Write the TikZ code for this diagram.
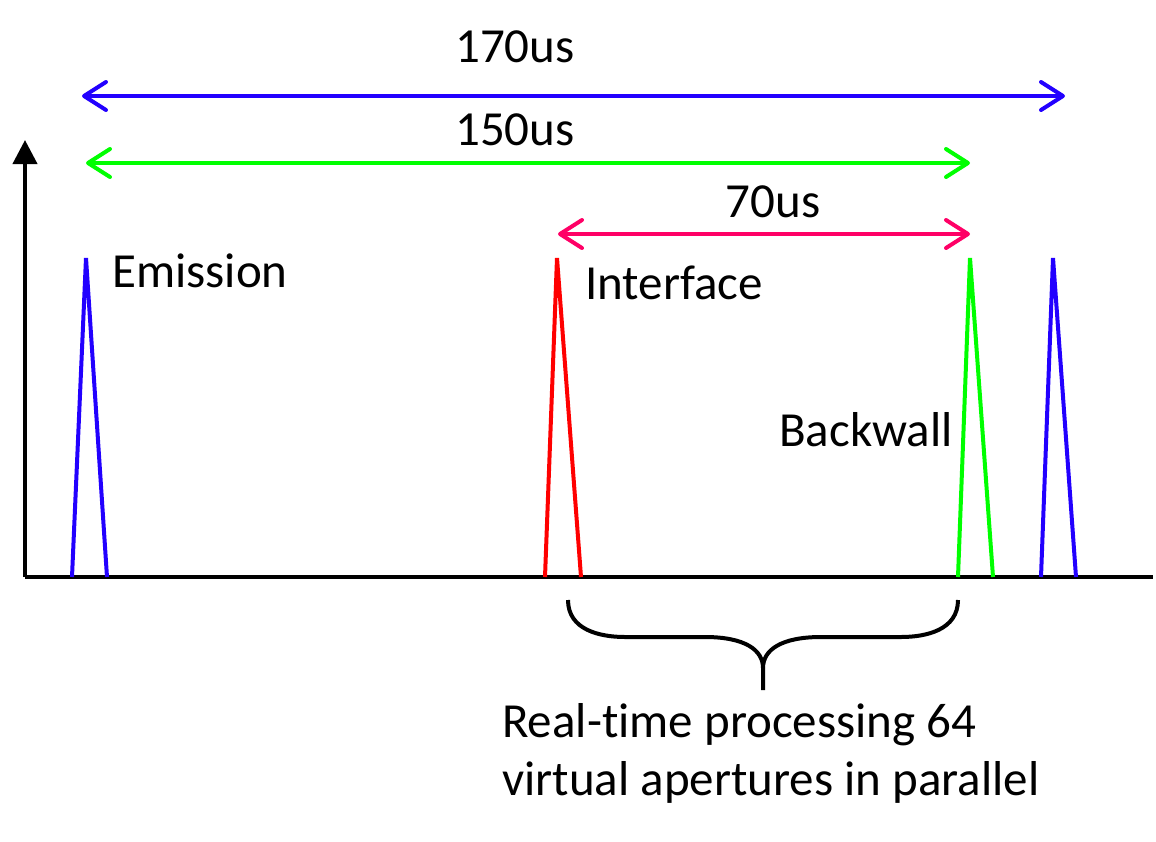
\documentclass[tikz,border=0pt]{standalone}
\usepackage{fontspec}
\setmainfont{Carlito}[Ligatures=NoCommon]
\usetikzlibrary{arrows.meta}
\definecolor{pblue}{RGB}{34,0,255}
\definecolor{pred}{RGB}{255,0,0}
\definecolor{pgreen}{RGB}{0,255,0}
\definecolor{ppink}{RGB}{255,0,102}
\tikzset{
  lbl/.style={font=\fontsize{49}{58}\selectfont, inner sep=0pt, anchor=base},
  dim/.style={line width=4pt, {Straight Barb[length=22pt,width=28pt,round]}-{Straight Barb[length=22pt,width=28pt,round]}},
  axis/.style={line width=4pt, black},
  peak/.style={line width=4pt, line join=miter},
}
\begin{document}
\begin{tikzpicture}[x=1pt,y=-1pt]
\useasboundingbox (0,0) rectangle (1156,841);
% axes
\coordinate (O) at (25,577);
\coordinate (Ytop) at (25,140);
\coordinate (Xend) at (1153,577);
\draw[axis,-{Triangle[length=24pt,width=24pt]}] (O) -- (Ytop);
\draw[axis] (O) -- (Xend);
% peaks
\coordinate (e1) at (72,577); \coordinate (e2) at (86,258); \coordinate (e3) at (107,577);
\coordinate (i1) at (545,577); \coordinate (i2) at (557,258); \coordinate (i3) at (581,577);
\coordinate (b1) at (958,577); \coordinate (b2) at (970,258); \coordinate (b3) at (993,577);
\coordinate (f1) at (1041,577); \coordinate (f2) at (1053,258); \coordinate (f3) at (1076,577);
\draw[peak, pblue] (e1) -- (e2) -- (e3);
\draw[peak, pred] (i1) -- (i2) -- (i3);
\draw[peak, pgreen] (b1) -- (b2) -- (b3);
\draw[peak, pblue] (f1) -- (f2) -- (f3);
% dimension arrows
\coordinate (a1l) at (82,96); \coordinate (a1r) at (1065,96);
\coordinate (a2l) at (86,163); \coordinate (a2r) at (970,163);
\coordinate (a3l) at (558,234); \coordinate (a3r) at (970,234);
\draw[dim, pblue] (a1l) -- (a1r);
\draw[dim, pgreen] (a2l) -- (a2r);
\draw[dim, ppink] (a3l) -- (a3r);
\node[lbl] (t170) at (515,62) {170us};
\node[lbl] (t150) at (515,145) {150us};
\node[lbl] (t70) at (773,217) {70us};
% peak labels
\node[lbl, anchor=base west] (emis) at (112,287) {Emission};
\node[lbl, anchor=base west] (intf) at (585,299) {Interface};
\node[lbl, anchor=base west] (bwall) at (779,446) {Backwall};
% brace
\coordinate (brL) at (568,600);
\coordinate (brR) at (958,600);
\coordinate (brT) at (763,690);
\draw[line width=4pt, line cap=butt] (brL) .. controls (568,630) and (600,637) .. (625,637)
  -- (705,637) .. controls (745,637) and (763,650) .. (763,668) -- (brT);
\draw[line width=4pt, line cap=butt] (brR) .. controls (958,630) and (926,637) .. (901,637)
  -- (821,637) .. controls (781,637) and (763,650) .. (763,668);
\node[lbl, anchor=base west, align=left] (rt) at (502,795) {Real-time processing 64\\virtual apertures in parallel};
\end{tikzpicture}
\end{document}
